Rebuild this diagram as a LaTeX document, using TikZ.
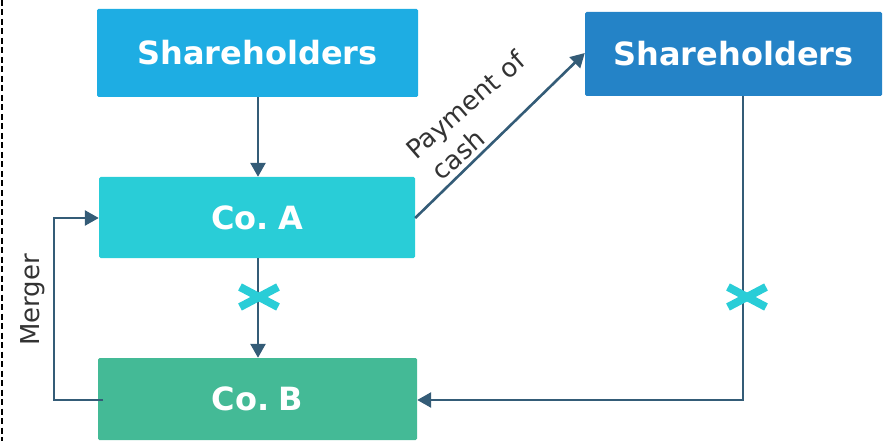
\documentclass[tikz,border=0pt]{standalone}
\usepackage{fontspec}
\setmainfont{DejaVu Sans}
\usetikzlibrary{arrows.meta,calc}
\definecolor{shA}{HTML}{1EADE3}
\definecolor{shB}{HTML}{2483C7}
\definecolor{coA}{HTML}{29CDD7}
\definecolor{coB}{HTML}{44BA96}
\definecolor{flow}{HTML}{345C77}
\definecolor{lbl}{HTML}{333333}
\begin{document}
\begin{tikzpicture}[x=1pt,y=-1pt,
  entity/.style={rounded corners=1.5pt, text=white, font=\bfseries\fontsize{32}{36}\selectfont, inner sep=0pt},
  link/.style={draw=flow, line width=2.6pt, -{Triangle[length=14pt,width=15pt]}},
  blocked/.style={draw=coA, line width=8pt},
  note/.style={text=lbl, font=\fontsize{26}{33}\selectfont, inner sep=0pt}]
\useasboundingbox (0,0) rectangle (892,441);
% divider on the left edge
\draw[black, line width=1.6pt, dash pattern=on 6pt off 3.5pt] (2,0) -- (2,441);
% entities
\node[entity, fill=shA, minimum width=321pt, minimum height=88pt] (shl) at (257.5,53) {Shareholders};
\node[entity, fill=shB, minimum width=297pt, minimum height=84pt] (shr) at (733.5,54) {Shareholders};
\node[entity, fill=coA, minimum width=316pt, minimum height=81pt] (coa) at (257,217.5) {Co.\hspace{0.3em}A};
\node[entity, fill=coB, minimum width=319pt, minimum height=82pt] (cob) at (257.5,399) {Co.\hspace{0.3em}B};
% bend points
\coordinate (mlo) at (54,400);
\coordinate (mhi) at (54,218);
\coordinate (rdn) at (743,400);
% flows
\draw[link] (shl.south -| 258,0) -- (coa.north -| 258,0);
\draw[link] (coa.south -| 258,0) -- (cob.north -| 258,0);
\draw[link] (103,400) -- (mlo) -- (mhi) -- (coa.west |- mhi);
\draw[link] (coa.east |- 0,218) -- (shr.west |- 0,53);
\draw[link] (shr.south -| 743,0) -- (rdn) -- (cob.east |- rdn);
% labels
\node[note, rotate=90] (merger) at (33,300) {Merger};
\node[note, rotate=41, align=left] (pay) at (476,117) {Payment of\\\hspace{0.2em}cash};
% blocked crosses
\coordinate (xa) at (259,297);
\coordinate (xb) at (747,297);
\foreach \c in {xa,xb}{
  \draw[blocked] ($(\c)+(-19,-10)$) -- ($(\c)+(19,10)$);
  \draw[blocked] ($(\c)+(-19,10)$) -- ($(\c)+(19,-10)$);
}
\end{tikzpicture}
\end{document}
